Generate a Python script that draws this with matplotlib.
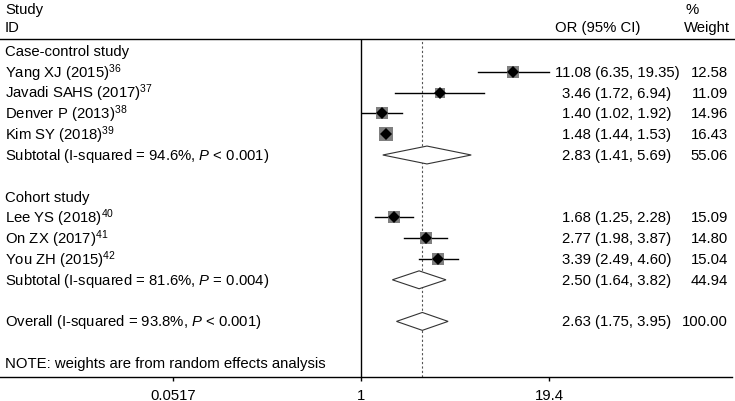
import matplotlib.pyplot as plt
from matplotlib.patches import Polygon
import numpy as np

plt.rcParams['font.family'] = ['Liberation Sans', 'DejaVu Sans']
plt.rcParams['mathtext.fontset'] = 'custom'
plt.rcParams['mathtext.rm'] = 'Liberation Sans'
plt.rcParams['mathtext.it'] = 'Liberation Sans:italic'

# case-control studies
cc_names = ["Yang XJ (2015)", "Javadi SAHS (2017)", "Denver P (2013)", "Kim SY (2018)"]
cc_refs = ["36", "37", "38", "39"]
cc_or = [11.08, 3.46, 1.40, 1.48]
cc_lo = [6.35, 1.72, 1.02, 1.44]
cc_hi = [19.35, 6.94, 1.92, 1.53]
cc_w = [12.58, 11.09, 14.96, 16.43]

# cohort studies
co_names = ["Lee YS (2018)", "On ZX (2017)", "You ZH (2015)"]
co_refs = ["40", "41", "42"]
co_or = [1.68, 2.77, 3.39]
co_lo = [1.25, 1.98, 2.49]
co_hi = [2.28, 3.87, 4.60]
co_w = [15.09, 14.80, 15.04]

group_names = ["Case-control study", "Cohort study"]
sub_labels = ["Subtotal (I-squared = 94.6%, $\\it{P}$ < 0.001)",
              "Subtotal (I-squared = 81.6%, $\\it{P}$ = 0.004)"]
sub_or = [2.83, 2.50]
sub_lo = [1.41, 1.64]
sub_hi = [5.69, 3.82]
sub_w = [55.06, 44.94]

overall_label = "Overall (I-squared = 93.8%, $\\it{P}$ < 0.001)"
overall_or, overall_lo, overall_hi, overall_w = 2.63, 1.75, 3.95, 100.00

note = "NOTE: weights are from random effects analysis"
xticks = [0.0517, 1, 19.4]
xtick_labels = ["0.0517", "1", "19.4"]

W, H = 735, 402
fig = plt.figure(figsize=(W / 100, H / 100), dpi=100)
ax = fig.add_axes([0, (H - 378) / H, 1, (378 - 40) / H])

# log scale: 1 at px 361, 63.4 px per ln unit
scale = 63.4
x0 = 361
ax.set_xscale('log')
ax.set_xlim(np.exp(-x0 / scale), np.exp((W - x0) / scale))
row_h = 20.8
ax.set_ylim((378 - 52) / row_h, (40 - 52) / row_h)

FS = 10.7
col_lab = 5 / W
col_or = 617 / W
col_w = 728 / W
tr = ax.get_yaxis_transform()


def txt(y, label, or_, lo, hi, w):
    ax.text(col_lab, y, label, transform=tr, ha='left', va='center', fontsize=FS)
    ax.text(col_or, y, f"{or_:.2f} ({lo:.2f}, {hi:.2f})", transform=tr,
            ha='center', va='center', fontsize=FS)
    ax.text(col_w, y, f"{w:.2f}", transform=tr, ha='right', va='center', fontsize=FS)


def diamond(y, or_, lo, hi):
    h = 0.43
    ax.add_patch(Polygon([(lo, y), (or_, y - h), (hi, y), (or_, y + h)], closed=True,
                         facecolor='white', edgecolor='#333333', lw=0.8, zorder=3))


groups = [(cc_names, cc_refs, cc_or, cc_lo, cc_hi, cc_w),
          (co_names, co_refs, co_or, co_lo, co_hi, co_w)]
y = 0
for g, (names, refs, ors, los, his, ws) in enumerate(groups):
    ax.text(col_lab, y, group_names[g], transform=tr, ha='left', va='center', fontsize=FS)
    y += 1
    for n, r, o, lo, hi, w in zip(names, refs, ors, los, his, ws):
        txt(y, f"{n}$^{{{r}}}$", o, lo, hi, w)
        ax.plot([lo, hi], [y, y], color='black', lw=1.0, zorder=2)
        ax.plot(o, y, marker='s', color='#7f7f7f', markersize=3.3 * np.sqrt(w) * 0.72,
                markeredgewidth=0, zorder=3)
        ax.plot(o, y, marker='D', color='black', markersize=6.0, markeredgewidth=0, zorder=4)
        y += 1
    txt(y, sub_labels[g], sub_or[g], sub_lo[g], sub_hi[g], sub_w[g])
    diamond(y, sub_or[g], sub_lo[g], sub_hi[g])
    y += 2

txt(y, overall_label, overall_or, overall_lo, overall_hi, overall_w)
diamond(y, overall_or, overall_lo, overall_hi)
y += 2
ax.text(col_lab, y, note, transform=tr, ha='left', va='center', fontsize=FS)

ax.axvline(1, color='black', lw=1.0, zorder=1)
ax.axvline(overall_or, color='#555555', lw=0.8, ls=(0, (2, 2)), zorder=1)

for s in ['left', 'right']:
    ax.spines[s].set_visible(False)
ax.spines['top'].set_linewidth(1.0)
ax.spines['bottom'].set_linewidth(1.0)
ax.spines['bottom'].set_bounds(ax.get_xlim()[0], np.exp((732 - x0) / scale))
ax.set_yticks([])
ax.set_xticks(xticks)
ax.set_xticklabels(xtick_labels, fontsize=FS)
ax.minorticks_off()
ax.tick_params(axis='x', length=3, width=1, pad=5)

# header
fig.text(5 / W, 1 - 10 / H, "Study", ha='left', va='center', fontsize=FS)
fig.text(5 / W, 1 - 28 / H, "ID", ha='left', va='center', fontsize=FS)
fig.text(640 / W, 1 - 28 / H, "OR (95% CI)", ha='right', va='center', fontsize=FS)
fig.text(686 / W, 1 - 10 / H, "%", ha='left', va='center', fontsize=FS)
fig.text(684 / W, 1 - 28 / H, "Weight", ha='left', va='center', fontsize=FS)

fig.savefig("out.png", dpi=100)
